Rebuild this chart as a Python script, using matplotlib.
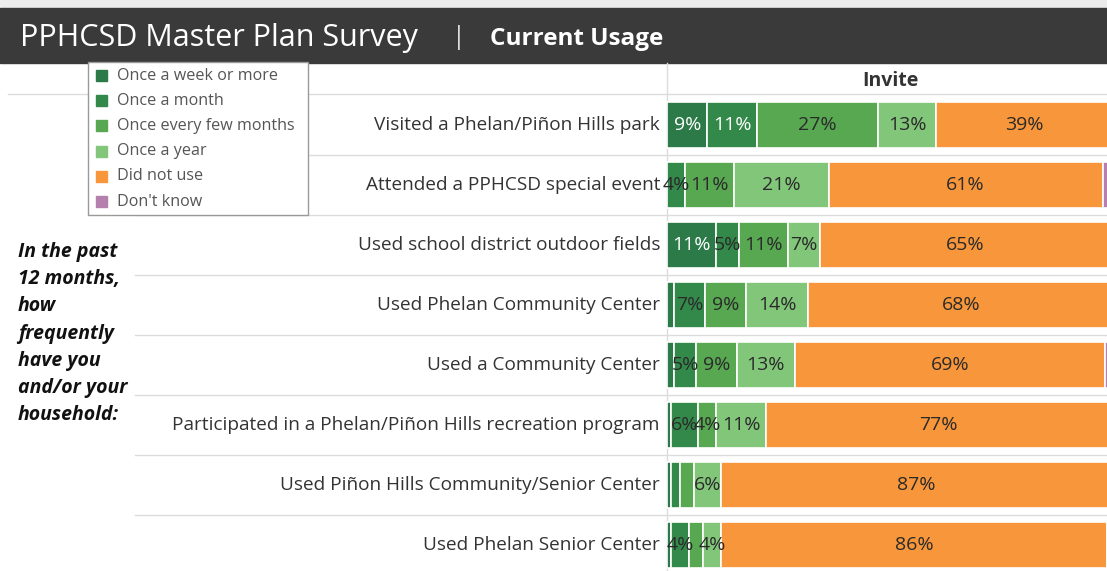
import matplotlib
matplotlib.use("Agg")
import matplotlib.pyplot as plt
from matplotlib.patches import Rectangle
import numpy as np

plt.rcParams['font.family'] = ['Open Sans', 'DejaVu Sans']

# ----------------------------------------------------------------------------
# Data (percent of respondents)
# ----------------------------------------------------------------------------
activities = [
    "Visited a Phelan/Piñon Hills park",
    "Attended a PPHCSD special event",
    "Used school district outdoor fields",
    "Used Phelan Community Center",
    "Used a Community Center",
    "Participated in a Phelan/Piñon Hills recreation program",
    "Used Piñon Hills Community/Senior Center",
    "Used Phelan Senior Center",
]
categories = ["Once a week or more", "Once a month", "Once every few months",
              "Once a year", "Did not use", "Don't know"]
weekly = [9, 0, 11, 1.5, 1.5, 1, 1, 1]
monthly = [11, 4, 5, 7, 5, 6, 2, 4]
few_months = [27, 11, 11, 9, 9, 4, 3, 3]
yearly = [13, 21, 7, 14, 13, 11, 6, 4]
did_not_use = [39, 61, 65, 68, 69, 77, 87, 86]
dont_know = [1, 3, 1, 0.5, 2.5, 1, 1, 2]

colors = ["#2b7a47", "#33894a", "#58a852", "#82c67a", "#f7963a", "#b57fae"]

W, H = 1107, 571
fig = plt.figure(figsize=(W / 100, H / 100), dpi=100)

# background / decoration axes in pixel coordinates
bg = fig.add_axes([0, 0, 1, 1])
bg.set_xlim(0, W)
bg.set_ylim(H, 0)
bg.axis("off")

# title bar
bg.add_patch(Rectangle((0, 0), W, 8, color="#ececec", zorder=1))
bg.add_patch(Rectangle((0, 8), W, 55, color="#3a3a3a", zorder=1))
bg.text(20, 38, "PPHCSD Master Plan Survey", color="white", fontsize=22,
        va="center", ha="left", zorder=2)
bg.text(452, 38, "|", color="#dddddd", fontsize=18, va="center", ha="left", zorder=2)
bg.text(490, 39, "Current Usage", color="white", fontsize=17.5, fontweight="bold",
        va="center", ha="left", zorder=2)

# grid lines
row_top = 95
row_h = 60
bg.plot([8, W], [row_top - 1, row_top - 1], color="#dcdcdc", lw=1, zorder=1)
for i in range(1, len(activities)):
    y = row_top + i * row_h
    bg.plot([135, W], [y, y], color="#dcdcdc", lw=1, zorder=1)
bg.plot([667, 667], [63, H], color="#dcdcdc", lw=1, zorder=1)

bg.text(890, 81, "Invite", fontsize=14, fontweight="bold", color="#333333",
        ha="center", va="center")

# row labels
for i, name in enumerate(activities):
    bg.text(660, row_top + row_h * (i + 0.5), name, fontsize=13.7, color="#333333",
            ha="right", va="center", zorder=2)

# left note
note = ["In the past", "12 months,", "how", "frequently", "have you",
        "and/or your", "household:"]
for j, line in enumerate(note):
    bg.text(18, 252 + j * 27.2, line, fontsize=14, fontweight="bold", style="italic",
            color="#111111", ha="left", va="center")

# legend box
bg.add_patch(Rectangle((88, 62), 220, 153, facecolor="white", edgecolor="#9a9a9a",
                       lw=1, zorder=5))
for k, (lab, c) in enumerate(zip(categories, colors)):
    y = 75.5 + k * 25.2
    bg.add_patch(Rectangle((96, y - 5.5), 11, 11, color=c, zorder=6))
    bg.text(117, y, lab, fontsize=11.6, color="#555555", ha="left", va="center", zorder=6)

# stacked bar axes
px_per_pct = 4.49
ax = fig.add_axes([667 / W, 0, 1 - 667 / W, (H - row_top) / H])
ax.patch.set_alpha(0)
n_rows_visible = (H - row_top) / row_h
ax.set_ylim(-0.5 + n_rows_visible, -0.5)
ax.set_xlim(0, (W - 667) / px_per_pct)
ax.axis("off")

series = [weekly, monthly, few_months, yearly, did_not_use, dont_know]
y = np.arange(len(activities))
left = np.zeros(len(activities))
for k, (vals, c) in enumerate(zip(series, colors)):
    vals = np.array(vals, float)
    ax.barh(y, vals, left=left, height=0.76, color=c, edgecolor="white", linewidth=1.2)
    if k < 5:
        for i, v in enumerate(vals):
            if v >= 4:
                tc = "white" if (k <= 1 and v >= 9) else "#2a2a2a"
                ax.text(left[i] + v / 2, i, f"{v:.0f}%", ha="center", va="center",
                        fontsize=14, color=tc)
    left += vals

fig.savefig("out.png", dpi=100)
